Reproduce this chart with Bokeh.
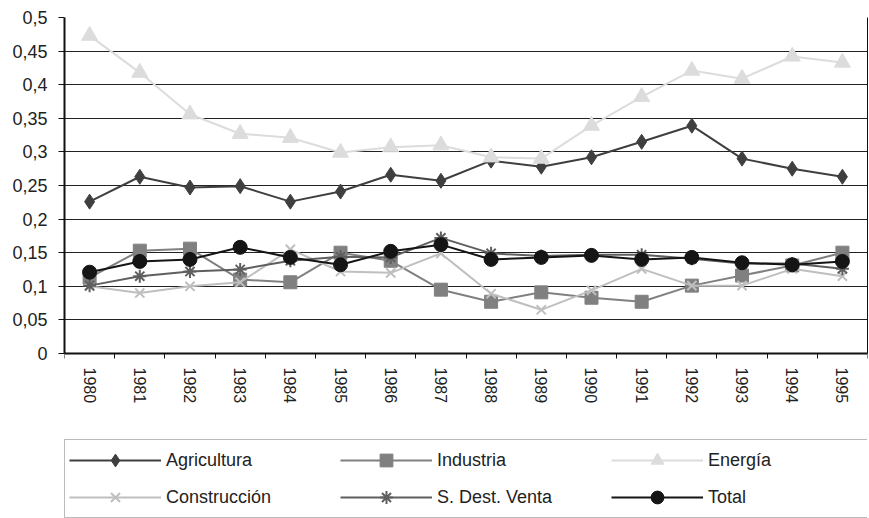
import numpy as np
from bokeh.plotting import figure
from bokeh.models import (Range1d, FixedTicker, Legend, LegendItem, LinearAxis)
from bokeh.embed import file_html
from bokeh.resources import INLINE

years = [1980, 1981, 1982, 1983, 1984, 1985, 1986, 1987,
         1988, 1989, 1990, 1991, 1992, 1993, 1994, 1995]
year_labels = [str(y) for y in years]

agricultura = [0.226, 0.263, 0.247, 0.249, 0.226, 0.241, 0.266, 0.257,
               0.287, 0.278, 0.292, 0.315, 0.339, 0.290, 0.275, 0.263]
industria = [0.113, 0.153, 0.156, 0.110, 0.106, 0.150, 0.138, 0.095,
             0.077, 0.091, 0.083, 0.077, 0.101, 0.116, 0.131, 0.150]
energia = [0.473, 0.418, 0.356, 0.327, 0.321, 0.299, 0.307, 0.310,
           0.292, 0.290, 0.339, 0.382, 0.421, 0.409, 0.442, 0.433]
construccion = [0.100, 0.090, 0.100, 0.106, 0.155, 0.122, 0.120, 0.149,
                0.089, 0.065, 0.094, 0.126, 0.101, 0.101, 0.126, 0.115]
sdestventa = [0.101, 0.115, 0.122, 0.125, 0.138, 0.144, 0.143, 0.172,
              0.149, 0.145, 0.147, 0.147, 0.141, 0.134, 0.134, 0.126]
total = [0.121, 0.137, 0.140, 0.158, 0.143, 0.132, 0.152, 0.162,
         0.140, 0.143, 0.146, 0.140, 0.143, 0.135, 0.132, 0.137]

y_ticks = [0, 0.05, 0.1, 0.15, 0.2, 0.25, 0.3, 0.35, 0.4, 0.45, 0.5]
y_labels = ["0", "0,05", "0,1", "0,15", "0,2", "0,25", "0,3", "0,35",
            "0,4", "0,45", "0,5"]

series = [
    ("Agricultura", agricultura, "#3f3f3f", "diamond", 15),
    ("Industria", industria, "#808080", "square", 13),
    ("Energía", energia, "#dcdcdc", "triangle", 16),
    ("Construcción", construccion, "#bfbfbf", "x", 13),
    ("S. Dest. Venta", sdestventa, "#5f5f5f", "asterisk", 13),
    ("Total", total, "#151515", "circle", 14),
]

FONT = "Liberation Sans"

# layout (pixels): plot area from y=17 (top value) to y=353 (zero); the frame
# continues down to the bottom edge so that the legend can sit inside it
W, H = 869, 518
TOP, ZERO = 17, 353
y0, y1 = y_ticks[0], y_ticks[-1]
y_start = y0 - (y1 - y0) * (H - ZERO) / (ZERO - TOP)

p = figure(width=W, height=H, output_backend="svg", toolbar_location=None,
           x_range=Range1d(years[0] - 0.5, years[-1] + 0.5),
           y_range=Range1d(y_start, y1),
           min_border_left=64, min_border_right=2, min_border_top=TOP,
           min_border_bottom=0)

p.outline_line_color = None
p.xgrid.visible = False
p.ygrid.grid_line_color = "#222222"
p.ygrid.grid_line_width = 1
p.background_fill_color = "white"
p.border_fill_color = "white"

# x axis at zero: labels at category centres, tick marks at category boundaries
xa = p.xaxis[0]
xa.fixed_location = y0
xa.ticker = FixedTicker(ticks=years,
                        minor_ticks=[y - 0.5 for y in years] + [years[-1] + 0.5])
xa.major_label_overrides = dict(zip(years, year_labels))
xa.major_tick_out = 0
xa.major_tick_in = 0
xa.minor_tick_out = 5
xa.minor_tick_in = 0
xa.minor_tick_line_color = "#111111"
xa.axis_line_width = 2
xa.axis_line_color = "#111111"
xa.major_label_orientation = -np.pi / 2
xa.major_label_standoff = 9
xa.major_label_text_font = FONT
xa.major_label_text_font_size = "16px"
xa.major_label_text_color = "#222222"

ya = p.yaxis[0]
ya.bounds = (y0, y1)
ya.ticker = FixedTicker(ticks=y_ticks)
ya.major_label_overrides = dict(zip(y_ticks, y_labels))
ya.major_tick_out = 6
ya.major_tick_in = 0
ya.minor_tick_out = 0
ya.minor_tick_in = 0
ya.major_tick_line_color = "#111111"
ya.axis_line_width = 2
ya.axis_line_color = "#111111"
ya.major_label_standoff = 11
ya.major_label_text_font = FONT
ya.major_label_text_font_size = "18px"
ya.major_label_text_color = "#222222"

# right border of the plot area
ra = LinearAxis(bounds=(y0, y1), ticker=FixedTicker(ticks=[]),
                major_tick_out=0, major_tick_in=0, minor_tick_out=0, minor_tick_in=0,
                major_label_standoff=0, axis_line_color="#111111", axis_line_width=1)
p.add_layout(ra, "right")

items = []
for name, vals, color, marker, size in series:
    lr = p.line(years, vals, line_color=color, line_width=2)
    sr = p.scatter(years, vals, marker=marker, size=size,
                   fill_color=color, line_color=color,
                   line_width=2 if marker in ("x", "asterisk") else 1)
    items.append(LegendItem(label=name, renderers=[lr, sr]))

legend = Legend(items=items, location=(0, 0), orientation="horizontal", ncols=3,
                glyph_width=92, glyph_height=32, label_height=20,
                label_width=169, label_standoff=5, spacing=5, padding=4, margin=0,
                border_line_color="#777777", border_line_width=1,
                background_fill_color="white", background_fill_alpha=1.0,
                label_text_font=FONT, label_text_font_size="18px",
                label_text_color="#222222")
p.add_layout(legend)

open("out.html", "w").write(file_html(p, INLINE))
